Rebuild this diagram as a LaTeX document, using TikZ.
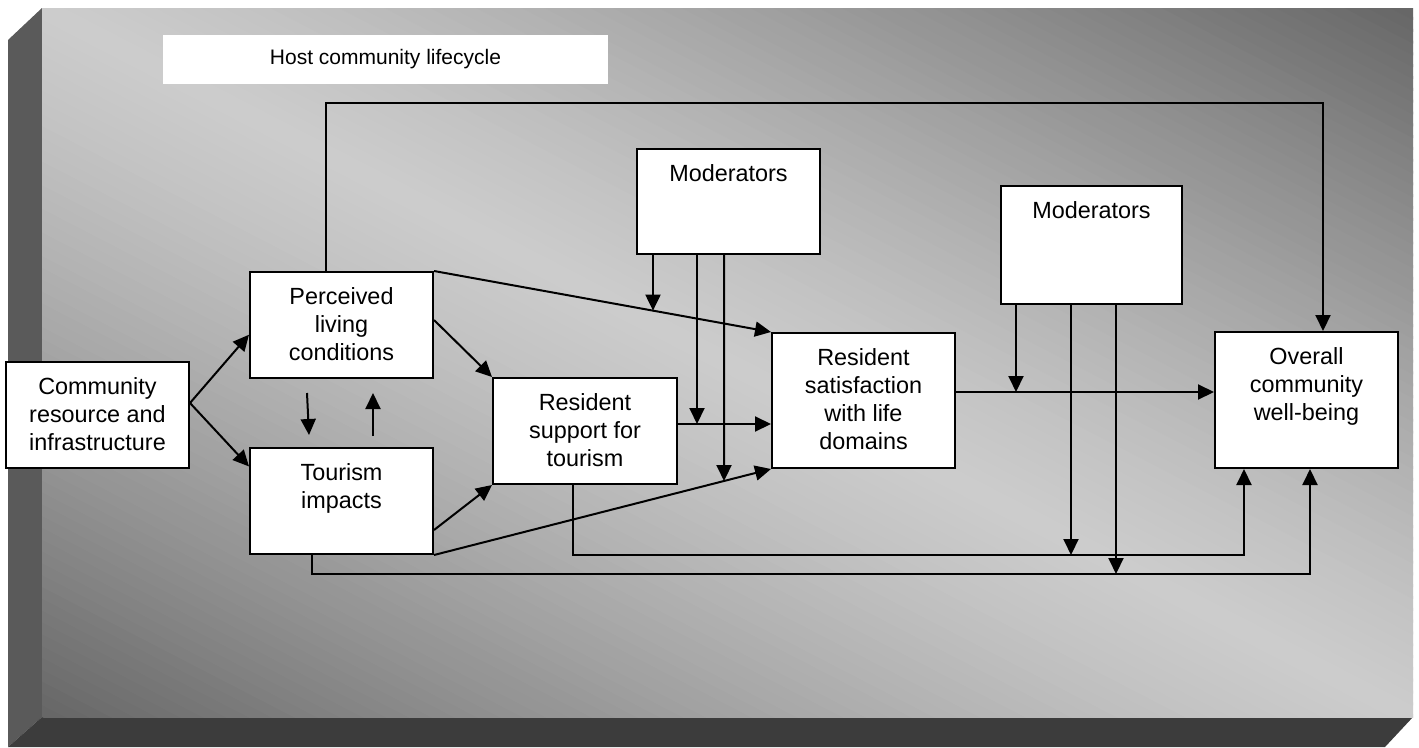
\documentclass[tikz,border=0pt]{standalone}
\usepackage{fontspec}
\setmainfont{Liberation Sans}
\usetikzlibrary{arrows.meta,calc}
\definecolor{faceDark}{HTML}{666666}
\definecolor{faceLight}{HTML}{CCCCCC}
\definecolor{sideLeft}{HTML}{5A5A5A}
\definecolor{sideBottom}{HTML}{3C3C3C}
\newcommand{\boxfont}{\fontsize{23.4pt}{28pt}\selectfont}
\begin{document}
\begin{tikzpicture}[x=1pt,y=-1pt,
  box/.style={draw=black, line width=2pt, fill=white, inner sep=0pt},
  txt/.style={anchor=north, align=center, inner sep=0pt, yshift=-16pt, font=\boxfont},
  conn/.style={line width=2pt, draw=black},
  arr/.style={conn, -{Triangle[length=16pt,width=15pt]}}
]
% page and bevelled panel
\useasboundingbox (0,0) rectangle (1419,747);
\fill[white] (0,0) rectangle (1419,747);
\fill[sideLeft] (8,40) -- (42,8) -- (42,717) -- (8,747) -- cycle;
\fill[sideBottom] (8,747) -- (42,717) -- (1413,717) -- (1385,747) -- cycle;
% front face: light along the falling diagonal, dark towards the other two corners
\begin{scope}
  \clip (42,8) rectangle (1413,717);
  \foreach \i in {0,...,119}{
    \pgfmathsetmacro{\ta}{-1+\i/60}
    \pgfmathsetmacro{\tb}{\ta+1/60+0.004}
    \pgfmathsetmacro{\tm}{\ta+1/120}
    \pgfmathsetmacro{\pc}{100*(1-abs(\tm)^1.3)}
    \fill[faceLight!\pc!faceDark]
      ({42+(\ta-1)*1371},-701) -- ({42+(\ta+2)*1371},1426) --
      ({42+(\tb+2)*1371},1426) -- ({42+(\tb-1)*1371},-701) -- cycle;
  }
\end{scope}

% title
\node[fill=white, minimum width=445pt, minimum height=49pt, inner sep=0pt] (title) at (385.5,59.5)
  {\fontsize{21pt}{25pt}\selectfont Host community lifecycle};

% boxes
\node[box, minimum width=183pt, minimum height=106pt, label={[txt]north:{Community\\resource and\\infrastructure}}] (com) at (97.5,415) {};
\node[box, minimum width=183pt, minimum height=106pt, label={[txt]north:{Perceived\\living\\conditions}}] (plc) at (341.5,325) {};
\node[box, minimum width=183pt, minimum height=106pt, label={[txt]north:{Tourism\\impacts}}] (tim) at (341.5,501) {};
\node[box, minimum width=184pt, minimum height=106pt, label={[txt]north:{Resident\\support for\\tourism}}] (sup) at (585,431) {};
\node[box, minimum width=183pt, minimum height=135pt, label={[txt]north:{Resident\\satisfaction\\with life\\domains}}] (sat) at (863.5,400.5) {};
\node[box, minimum width=183pt, minimum height=105pt, label={[txt]north:{Moderators}}] (m1) at (728.5,201.5) {};
\node[box, minimum width=181pt, minimum height=118pt, label={[txt]north:{Moderators}}] (m2) at (1091.5,245) {};
\node[box, minimum width=183pt, minimum height=136pt, label={[txt]north:{Overall\\community\\well-being}}] (ov) at (1306.5,400) {};

% community resources to living conditions and impacts
\coordinate (c0) at ([yshift=12pt]com.east);
\draw[arr] (c0) -- ($(plc.north west)!0.59!(plc.south west)$);
\draw[arr] (c0) -- ($(tim.north west)!0.18!(tim.south west)$);

% living conditions <-> tourism impacts
\coordinate (d1) at ($(plc.south west)+(58,14)$);
\coordinate (d2) at ($(tim.north west)+(60,-12)$);
\draw[arr] (d1) -- (d2);
\coordinate (u1) at ($(tim.north west)+(124,-11)$);
\coordinate (u2) at ($(plc.south west)+(124,14)$);
\draw[arr] (u1) -- (u2);

% into resident support
\draw[arr] ([yshift=5pt]plc.east) -- (sup.north west);
\draw[arr] ([yshift=-29pt]tim.east) -- (sup.south west);

% into resident satisfaction
\draw[arr] (plc.north east) -- (sat.north west);
\draw[arr] (tim.south east) -- (sat.south west);
\coordinate (s1) at ([yshift=7pt]sup.east);
\draw[arr] (s1) -- (s1 -| sat.west);

% first moderators
\coordinate (m1a) at ($(m1.south west)+(17,0)$);
\coordinate (m1a2) at ($(m1a)+(0,200)$);
\coordinate (m1b) at ($(m1.south west)+(61,0)$);
\coordinate (m1c) at ($(m1.south west)+(88,0)$);
\coordinate (m1c2) at ($(m1c)+(0,300)$);
\draw[arr] (m1a) -- (intersection of plc.north east--sat.north west and m1a--m1a2);
\draw[arr] (m1b) -- (m1b |- s1);
\draw[arr] (m1c) -- (intersection of tim.south east--sat.south west and m1c--m1c2);

% satisfaction to overall well-being
\coordinate (s2) at ([yshift=8.5pt]sat.east);
\draw[arr] (s2) -- (s2 -| ov.west);

% paths below the boxes
\coordinate (b1) at ($(sup.south)+(-12,0)$);
\coordinate (b1low) at ($(b1)+(0,70)$);
\coordinate (b1r) at ($(ov.south west)+(30,0)$);
\draw[arr] (b1) -- (b1low) -| (b1r);
\coordinate (b2) at ($(tim.south)+(-30,0)$);
\coordinate (b2low) at ($(b2)+(0,19)$);
\coordinate (b2r) at ($(ov.south)+(3.5,0)$);
\draw[arr] (b2) -- (b2low) -| (b2r);

% path above the boxes
\coordinate (t1) at ($(plc.north)+(-15.5,0)$);
\coordinate (t1up) at ($(t1)+(0,-168)$);
\coordinate (t1r) at ($(ov.north)+(16.5,0)$);
\draw[arr] (t1) -- (t1up) -| (t1r);

% second moderators
\coordinate (m2a) at ($(m2.south west)+(16,0)$);
\coordinate (m2b) at ($(m2.south west)+(71,0)$);
\coordinate (m2c) at ($(m2.south west)+(116,0)$);
\draw[arr] (m2a) -- (m2a |- s2);
\draw[arr] (m2b) -- (m2b |- b1low);
\draw[arr] (m2c) -- (m2c |- b2low);
\end{tikzpicture}
\end{document}
